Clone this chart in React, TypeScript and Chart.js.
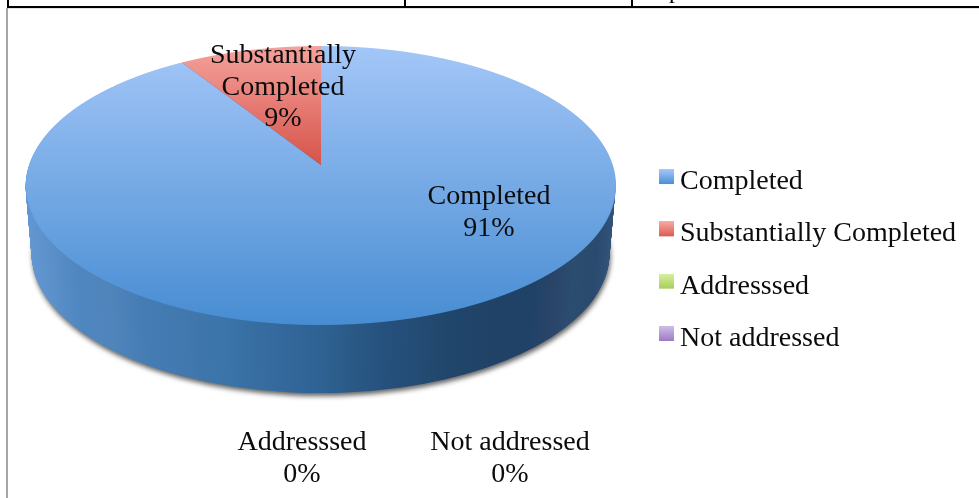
import React, { useEffect, useRef } from "react";
import { Chart, registerables } from "chart.js";

Chart.register(...registerables);

const categories = ["Completed", "Substantially Completed", "Addresssed", "Not addressed"];
const shares = [91, 9, 0, 0];
const baseColors = ["#6fa5e2", "#e57b72", "#bcdc7c", "#b49cd6"];
const swatchTops = ["#a6c8fa", "#f9aaa6", "#d9f0a0", "#d0bdea"];
const swatchBottoms = ["#4d8fd3", "#dc5b4e", "#a9cd5c", "#9a7cc0"];
const labelLines = [["Completed"], ["Substantially", "Completed"], ["Addresssed"], ["Not addressed"]];
const labelAnchors = [[489, 204], [283, 63], [302, 450], [510, 450]];

const FONT = '"Liberation Serif", serif';
const FONT_SIZE = 28;

// Perspective model of the disc
const CX = 321, CY = 165, A = 291.8, B = 136.5, K = 0.147;
const TOP = 46, BOTTOM = 325, DEPTH = 68;
const ELL_CX = 320.5, ELL_CY = 185.5, ELL_RX = 295, ELL_RY = 139.5;

const rgb = (h: string) => [1, 3, 5].map((i) => parseInt(h.slice(i, i + 2), 16));
const mix = (a: string, b: string, t: number) => {
  const p = rgb(a), q = rgb(b);
  return `rgb(${p.map((v, i) => Math.round(v + (q[i] - v) * t)).join(",")})`;
};

const wallStops: [number, string][] = [
  [0, "#6397d2"], [0.04, "#5b90c9"], [0.09, "#4f86c0"], [0.14, "#5085bb"], [0.2, "#457cb4"],
  [0.27, "#4178ae"], [0.34, "#3a74a8"], [0.42, "#356a9e"], [0.5, "#2f6293"], [0.55, "#2b5a86"],
  [0.6, "#265280"], [0.66, "#244c75"], [0.72, "#21466b"], [0.8, "#204267"], [0.86, "#204268"],
  [0.9, "#2a4569"], [0.93, "#2a4d70"], [0.97, "#2a4a6e"], [1, "#32547a"],
];

function makeSwatch(top: string, bottom: string) {
  const c = document.createElement("canvas");
  c.width = 23;
  c.height = 25;
  const g = c.getContext("2d")!;
  const grad = g.createLinearGradient(0, 0, 0, 15);
  grad.addColorStop(0, top);
  grad.addColorStop(1, bottom);
  g.fillStyle = grad;
  g.fillRect(8, 0, 15, 15);
  return c;
}

const pseudo3d = {
  id: "pseudo3d",
  beforeDraw(chart: any) {
    const { ctx } = chart;
    ctx.save();
    ctx.fillStyle = "#ffffff";
    ctx.fillRect(0, 0, 979, 498);
    // chart frame
    ctx.fillStyle = "#e2e2e2";
    ctx.fillRect(7, 8, 972, 1);
    ctx.fillStyle = "#a6a6a6";
    ctx.fillRect(6, 8, 2, 490);
    // table row above the chart
    ctx.fillStyle = "#000000";
    ctx.fillRect(7, 6, 972, 2);
    ctx.fillRect(7, 0, 2, 7);
    ctx.fillRect(404, 0, 2, 7);
    ctx.fillRect(631, 0, 2, 7);
    ctx.font = `24px ${FONT}`;
    ctx.textAlign = "left";
    ctx.textBaseline = "alphabetic";
    ctx.fillText("p", 669, -2);
    ctx.restore();
  },
  afterLayout(chart: any) {
    const l = chart.legend;
    if (!l) return;
    const pad = l.options.labels.padding;
    const dx = 659 - (l.left + pad);
    l.left += dx;
    l.right += dx;
    const dy = 11;
    l.top += dy;
    l.bottom += dy;
  },
  beforeDatasetsDraw(chart: any) {
    const { ctx } = chart;
    const arcs = chart.getDatasetMeta(0).data;
    const ax = arcs[0].x, ay = arcs[0].y, R = arcs[0].outerRadius;

    const withFill = (arc: any, fill: any) => {
      const saved = arc.options;
      arc.options = Object.assign({}, saved, { backgroundColor: fill, borderWidth: 0 });
      arc.draw(ctx);
      arc.options = saved;
    };

    // side wall
    const wall = ctx.createLinearGradient(ax - R, 0, ax + R, 0);
    wallStops.forEach(([s, c]) => wall.addColorStop(s, c));
    for (let t = DEPTH; t >= 1; t -= 0.5) {
      const a = (ELL_RX - (6 * t) / DEPTH) / R;
      const d = ELL_RY / R;
      ctx.save();
      ctx.setTransform(a, 0, 0, d, ELL_CX - a * ax, ELL_CY + t - d * ay);
      if (t === DEPTH) {
        ctx.shadowColor = "rgba(30,30,30,0.7)";
        ctx.shadowBlur = 5;
        ctx.shadowOffsetX = 1;
        ctx.shadowOffsetY = 3;
      }
      arcs.forEach((arc: any) => withFill(arc, wall));
      ctx.restore();
    }

    // disc fills, vertical gradients following the perspective
    const screenY = (Y: number) => CY - (B * Y) / (1 + K * Y);
    const blue = ctx.createLinearGradient(0, ay - R, 0, ay + R);
    for (let i = 0; i <= 10; i++) {
      const Y = 1 - i / 5;
      blue.addColorStop(i / 10, mix("#a4c6f8", "#478dd2", (screenY(Y) - TOP) / (BOTTOM - TOP)));
    }
    const red = ctx.createLinearGradient(0, ay - R, 0, ay);
    for (let i = 0; i <= 10; i++) {
      const Y = 1 - i / 10;
      red.addColorStop(i / 10, mix("#f5a29c", "#d6534a", (screenY(Y) - TOP) / (CY - TOP)));
    }
    const fills = [blue, red, baseColors[2], baseColors[3]];

    // one pixel row at a time, so the flat arcs follow the perspective
    for (let sy = TOP - 2; sy <= BOTTOM + 1; sy++) {
      const dist = CY - (sy + 0.5);
      const Y0 = dist / (B - K * dist);
      const w = 1 + K * Y0;
      const a = A / (w * R);
      const d = B / (w * w * R);
      ctx.save();
      ctx.beginPath();
      ctx.rect(0, sy, 979, 1);
      ctx.clip();
      ctx.setTransform(a, 0, 0, d, CX - a * ax, sy + 0.5 + (B / (w * w)) * Y0 - d * ay);
      arcs.forEach((arc: any, i: number) => withFill(arc, fills[i]));
      ctx.restore();
    }

    // data labels
    ctx.save();
    ctx.font = `${FONT_SIZE}px ${FONT}`;
    ctx.fillStyle = "#0c0c0c";
    ctx.textAlign = "center";
    ctx.textBaseline = "alphabetic";
    categories.forEach((_, i) => {
      const lines = [...labelLines[i], `${shares[i]}%`];
      lines.forEach((line, j) => {
        ctx.fillText(line, labelAnchors[i][0], labelAnchors[i][1] + j * 31.7);
      });
    });
    ctx.restore();
    return false;
  },
};

export default function App() {
  const ref = useRef<HTMLCanvasElement | null>(null);
  useEffect(() => {
    const swatches = categories.map((_, i) => makeSwatch(swatchTops[i], swatchBottoms[i]));
    const chart = new Chart(ref.current!, {
      type: "pie",
      data: {
        labels: categories,
        datasets: [{ data: shares, backgroundColor: baseColors, borderWidth: 0 }],
      },
      plugins: [pseudo3d],
      options: {
        responsive: false,
        animation: false,
        plugins: {
          tooltip: { enabled: false },
          title: { display: false },
          legend: {
            display: true,
            position: "right",
            labels: {
              usePointStyle: true,
              boxWidth: 7,
              padding: 24.3,
              color: "#0c0c0c",
              font: { family: FONT, size: FONT_SIZE },
              generateLabels: () =>
                categories.map((text, i) => ({
                  text,
                  pointStyle: swatches[i],
                  fillStyle: baseColors[i],
                  strokeStyle: baseColors[i],
                  lineWidth: 0,
                  hidden: false,
                  index: i,
                  fontColor: "#0c0c0c",
                })),
            },
          },
        },
      },
    } as any);
    return () => chart.destroy();
  }, []);
  return (
    <canvas
      ref={ref}
      width={979}
      height={498}
      style={{ position: "absolute", left: 0, top: 0, display: "block" }}
    />
  );
}
